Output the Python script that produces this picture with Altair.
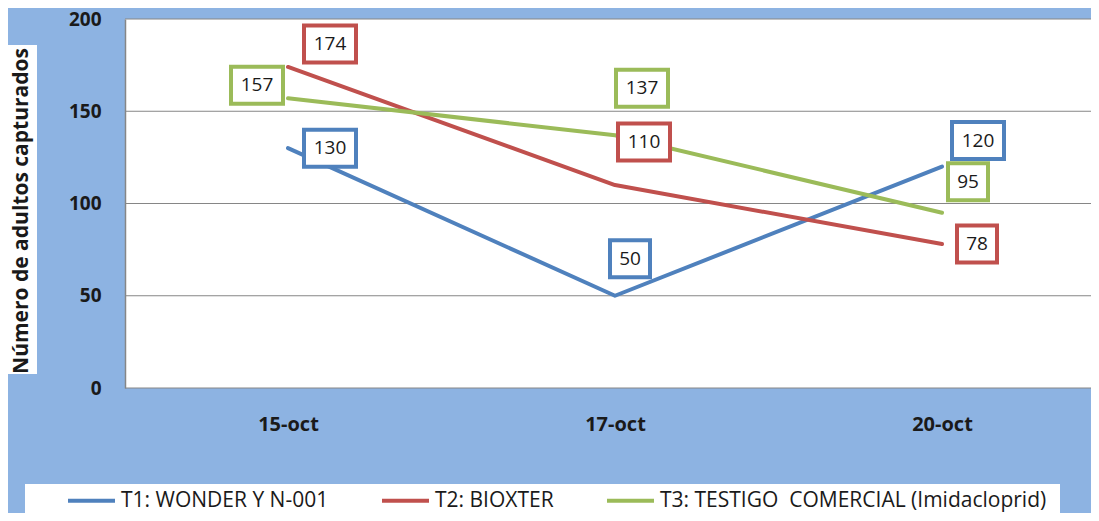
import altair as alt
import pandas as pd

# ---- data ----
dates = ["15-oct", "17-oct", "20-oct"]
series_names = ["T1: WONDER Y N-001", "T2: BIOXTER", "T3: TESTIGO\u00a0 COMERCIAL (Imidacloprid)"]
t1 = [130, 50, 120]
t2 = [174, 110, 78]
t3 = [157, 137, 95]
y_ticks = [0, 50, 100, 150, 200]
y_title = "Número de adultos capturados"

# ---- style ----
colors = ["#4F81BD", "#C0504D", "#9BBB59"]
bg = "#8DB3E2"
grid_col = "#868686"
txt_col = "#1a1a1a"
font = "Open Sans"
# label box offsets (px) per (series index, date index)
label_offsets = {
    (0, 0): (42, 0), (0, 1): (15, -37), (0, 2): (36, -26),
    (1, 0): (42, -23), (1, 1): (29, -43), (1, 2): (35, 0),
    (2, 0): (-31, -13), (2, 1): (27, -47), (2, 2): (26, -31),
}

rows = []
for si, vals in enumerate([t1, t2, t3]):
    for di, v in enumerate(vals):
        rows.append({"series": series_names[si], "sid": si, "date": dates[di], "did": di, "value": v})
df = pd.DataFrame(rows)

x_enc = alt.X("date:N", sort=dates, title=None,
              scale=alt.Scale(type="point", range=[163, 817], padding=0),
              axis=alt.Axis(labelFont=font, labelFontWeight="bold", labelFontSize=20,
                            labelColor=txt_col, labelPadding=26, ticks=False, domain=False,
                            grid=False, labelAngle=0))
y_enc = alt.Y("value:Q", title=None,
              scale=alt.Scale(domain=[0, 200], nice=False, zero=True),
              axis=alt.Axis(values=y_ticks, labelFont=font, labelFontWeight="bold",
                            labelFontSize=19, labelColor=txt_col, labelPadding=24,
                            ticks=False, domain=True, domainColor=grid_col, domainWidth=1.5,
                            grid=False))

base = alt.Chart(df)

grid = alt.Chart(pd.DataFrame({"value": y_ticks})).mark_rule(
    color=grid_col, strokeWidth=1).encode(y=y_enc, x=alt.value(0), x2=alt.value(966))

lines = base.mark_line(strokeWidth=4, strokeCap="round", strokeJoin="round").encode(
    x=x_enc, y=y_enc,
    color=alt.Color("series:N", sort=series_names,
                    scale=alt.Scale(domain=series_names, range=colors),
                    legend=alt.Legend(title=None, orient="none", legendX=-59, legendY=456,
                                      direction="horizontal", symbolType="stroke",
                                      symbolSize=2209, symbolStrokeWidth=4,
                                      labelFont=font, labelFontSize=21, labelColor=txt_col,
                                      labelOffset=4, columnPadding=45, labelLimit=700,
                                      padding=0)),
)

deco = alt.Chart(pd.DataFrame({"a": [0]}))
title_box = deco.mark_rect(fill="white").encode(
    x=alt.value(-123), x2=alt.value(-88), y=alt.value(26), y2=alt.value(355))
legend_box = deco.mark_rect(fill="white").encode(
    x=alt.value(-100), x2=alt.value(935), y=alt.value(465), y2=alt.value(540))
title_text = deco.mark_text(text=y_title, angle=270, font=font, fontWeight="bold",
                            fontSize=21, color=txt_col, align="center", baseline="middle").encode(
    x=alt.value(-103), y=alt.value(192))

layers = [title_box, legend_box, grid, lines]
text_layers = []
for (si, di), (dx, dy) in label_offsets.items():
    val = [t1, t2, t3][si][di]
    w = 52 if val >= 100 else 40
    h = 37
    hr = h / w
    path = f"M-1,-{hr:.4f}L1,-{hr:.4f}L1,{hr:.4f}L-1,{hr:.4f}Z"
    sub = base.transform_filter((alt.datum.sid == si) & (alt.datum.did == di))
    box = sub.mark_point(shape=path, size=w * w, filled=True, fill="white", stroke=colors[si],
                         strokeWidth=4, opacity=1, fillOpacity=1, strokeOpacity=1,
                         xOffset=dx, yOffset=dy).encode(x=x_enc, y=y_enc)
    txt = sub.mark_text(dx=dx, dy=dy, font=font, fontSize=19, color=txt_col,
                        align="center", baseline="middle").encode(
        x=x_enc, y=y_enc, text="value:Q")
    layers.append(box)
    text_layers.append(txt)

chart = alt.layer(*layers, *text_layers, title_text).properties(
    width=966, height=369,
    autosize=alt.AutoSizeParams(type="none"),
    padding={"left": 117, "top": 11, "right": 0, "bottom": 125},
    background=bg,
).configure_view(fill="white", stroke=None)

chart.save("out.html", embed_options={"renderer": "svg", "actions": False})
